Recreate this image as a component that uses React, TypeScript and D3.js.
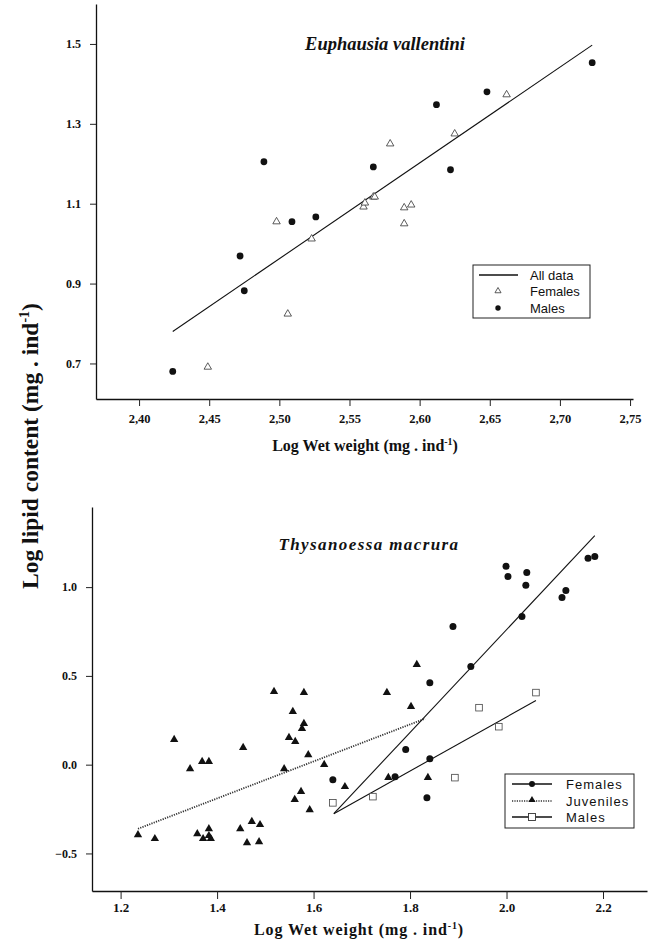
import React, { useEffect, useRef } from 'react';
import * as d3 from 'd3';

const serif = '"Liberation Serif", "Times New Roman", serif';
const sans = '"Liberation Sans", Arial, sans-serif';

// top panel : Euphausia vallentini
const evXTicks = [2.40, 2.45, 2.50, 2.55, 2.60, 2.65, 2.70, 2.75];
const evYTicks = [0.7, 0.9, 1.1, 1.3, 1.5];
const evFemales = [
  [2.449, 0.691], [2.498, 1.055], [2.506, 0.824], [2.523, 1.012], [2.560, 1.092],
  [2.561, 1.102], [2.567, 1.117], [2.568, 1.117], [2.579, 1.25], [2.589, 1.09],
  [2.594, 1.097], [2.589, 1.05], [2.625, 1.275], [2.662, 1.373]
];
const evMales = [
  [2.424, 0.68], [2.472, 0.969], [2.475, 0.882], [2.489, 1.205], [2.509, 1.055],
  [2.526, 1.067], [2.567, 1.192], [2.612, 1.348], [2.622, 1.185], [2.648, 1.38],
  [2.723, 1.453]
];
const evFit = [[2.424, 0.78], [2.723, 1.497]];

// bottom panel : Thysanoessa macrura
const tmXTicks = [1.2, 1.4, 1.6, 1.8, 2.0, 2.2];
const tmYTicks = [-0.5, 0.0, 0.5, 1.0];
const tmFemales = [
  [1.640, -0.085], [1.769, -0.068], [1.791, 0.085], [1.835, -0.186], [1.841, 0.034],
  [1.841, 0.462], [1.889, 0.778], [1.926, 0.553], [1.999, 1.117], [2.003, 1.06],
  [2.032, 0.835], [2.040, 1.01], [2.042, 1.083], [2.115, 0.942], [2.123, 0.981],
  [2.169, 1.162], [2.183, 1.173]
];
const tmJuveniles = [
  [1.236, -0.395], [1.271, -0.417], [1.311, 0.141], [1.344, -0.023], [1.359, -0.389],
  [1.369, 0.017], [1.371, -0.417], [1.383, 0.017], [1.383, -0.361], [1.383, -0.4],
  [1.387, -0.417], [1.448, -0.361], [1.454, 0.096], [1.462, -0.44], [1.472, -0.321],
  [1.487, -0.434], [1.489, -0.338], [1.518, 0.412], [1.539, -0.023], [1.549, 0.152],
  [1.557, 0.299], [1.561, -0.197], [1.562, 0.13], [1.574, -0.152], [1.576, 0.203],
  [1.580, 0.406], [1.580, 0.231], [1.589, 0.056], [1.592, -0.254], [1.622, 0.0],
  [1.665, -0.124], [1.752, 0.406], [1.755, -0.073], [1.802, 0.327], [1.814, 0.564],
  [1.837, -0.073]
];
const tmMales = [
  [1.640, -0.215], [1.723, -0.18], [1.893, -0.073], [1.943, 0.321], [1.984, 0.214],
  [2.061, 0.406]
];
const tmFemalesFit = [[1.642, -0.276], [2.183, 1.29]];
const tmJuvenilesFit = [[1.236, -0.361], [1.831, 0.259]];
const tmMalesFit = [[1.642, -0.276], [2.061, 0.361]];

const styleAxis = (g, size) => {
  g.attr('font-family', serif).attr('font-size', size).attr('font-weight', 'bold')
  g.select('.domain').attr('stroke', '#111').attr('stroke-width', 1.3)
  g.selectAll('.tick line').attr('stroke', '#222').attr('stroke-width', 1)
  g.selectAll('.tick text').attr('fill', '#111')
}

const axisTitle = (svg, x, y, size, spacing) => {
  const t = svg.append('text')
    .attr('x', x).attr('y', y)
    .attr('text-anchor', 'middle')
    .attr('font-family', serif).attr('font-weight', 'bold')
    .attr('font-size', size)
    .attr('letter-spacing', spacing)
    .attr('fill', '#111')
  t.append('tspan').text('Log Wet weight (mg . ind')
  t.append('tspan').attr('dy', -size * 0.4).attr('font-size', size * 0.62).text('-1')
  t.append('tspan').attr('dy', size * 0.4).text(')')
}

export default function App() {
  const ref = useRef(null);

  useEffect(() => {
    const svg = d3.select(ref.current)
    svg.selectAll('*').remove()

    // ---------- top panel
    const x1 = d3.scaleLinear().domain([2.3693, 2.7521]).range([96, 633])
    const y1 = d3.scaleLinear().domain([0.611, 1.6]).range([399, 4])

    const gx1 = svg.append('g').attr('transform', 'translate(0,399)')
      .call(d3.axisBottom(x1).tickValues(evXTicks).tickSize(7).tickSizeOuter(0).tickPadding(8)
        .tickFormat(d => d.toFixed(2).replace('.', ',')))
    styleAxis(gx1, 12.5)
    const gy1 = svg.append('g').attr('transform', 'translate(96,0)')
      .call(d3.axisLeft(y1).tickValues(evYTicks).tickSize(6).tickSizeOuter(0).tickPadding(9)
        .tickFormat(d3.format('.1f')))
    styleAxis(gy1, 12)

    svg.append('text')
      .attr('x', 385).attr('y', 50)
      .attr('text-anchor', 'middle')
      .attr('font-family', serif).attr('font-weight', 'bold').attr('font-style', 'italic')
      .attr('font-size', 18.5).attr('fill', '#111')
      .text('Euphausia vallentini')

    const line1 = d3.line().x(d => x1(d[0])).y(d => y1(d[1]))
    svg.append('path').attr('d', line1(evFit))
      .attr('fill', 'none').attr('stroke', '#111').attr('stroke-width', 1.1)

    const openTri = d3.symbol().type(d3.symbolTriangle).size(24)
    svg.append('g').selectAll('path').data(evFemales).enter().append('path')
      .attr('d', openTri)
      .attr('transform', d => `translate(${x1(d[0])},${y1(d[1])})`)
      .attr('fill', '#fff').attr('stroke', '#333').attr('stroke-width', 0.8)
    svg.append('g').selectAll('circle').data(evMales).enter().append('circle')
      .attr('cx', d => x1(d[0])).attr('cy', d => y1(d[1])).attr('r', 3.4)
      .attr('fill', '#111')

    // legend top
    const lg1 = svg.append('g').attr('font-family', sans).attr('font-size', 13).attr('fill', '#111')
    lg1.append('rect').attr('x', 473).attr('y', 265).attr('width', 117).attr('height', 53)
      .attr('fill', '#fff').attr('stroke', '#222').attr('stroke-width', 1)
    lg1.append('line').attr('x1', 479).attr('x2', 518).attr('y1', 275).attr('y2', 275)
      .attr('stroke', '#111').attr('stroke-width', 1.6)
    lg1.append('path').attr('d', d3.symbol().type(d3.symbolTriangle).size(16)())
      .attr('transform', 'translate(498,291)').attr('fill', '#fff').attr('stroke', '#333').attr('stroke-width', 0.8)
    lg1.append('circle').attr('cx', 498).attr('cy', 308).attr('r', 2.7).attr('fill', '#111')
    const lab1 = [['All data', 275], ['Females', 291], ['Males', 308]]
    lab1.forEach(([t, y]) => {
      lg1.append('text').attr('x', 530).attr('y', y).attr('dy', '0.36em').text(t)
    })

    // ---------- bottom panel
    const x2 = d3.scaleLinear().domain([1.1407, 2.2912]).range([92, 647])
    const y2 = d3.scaleLinear().domain([-0.7115, 1.4512]).range([891, 507])

    const gx2 = svg.append('g').attr('transform', 'translate(0,891)')
      .call(d3.axisBottom(x2).tickValues(tmXTicks).tickSize(8).tickSizeOuter(0).tickPadding(4)
        .tickFormat(d3.format('.1f')))
    styleAxis(gx2, 13)
    const gy2 = svg.append('g').attr('transform', 'translate(92,0)')
      .call(d3.axisLeft(y2).tickValues(tmYTicks).tickSize(6).tickSizeOuter(0).tickPadding(9)
        .tickFormat(d3.format('.1f')))
    styleAxis(gy2, 12)

    svg.append('text')
      .attr('x', 369).attr('y', 550)
      .attr('text-anchor', 'middle')
      .attr('font-family', serif).attr('font-weight', 'bold').attr('font-style', 'italic')
      .attr('font-size', 17).attr('letter-spacing', 1.4).attr('fill', '#111')
      .text('Thysanoessa macrura')

    const line2 = d3.line().x(d => x2(d[0])).y(d => y2(d[1]))
    svg.append('path').attr('d', line2(tmJuvenilesFit))
      .attr('fill', 'none').attr('stroke', '#333').attr('stroke-width', 1.8)
      .attr('stroke-dasharray', '1.2 1.2')
    svg.append('path').attr('d', line2(tmFemalesFit))
      .attr('fill', 'none').attr('stroke', '#111').attr('stroke-width', 1.1)
    svg.append('path').attr('d', line2(tmMalesFit))
      .attr('fill', 'none').attr('stroke', '#111').attr('stroke-width', 1.1)

    const fillTri = d3.symbol().type(d3.symbolTriangle).size(30)
    svg.append('g').selectAll('path').data(tmJuveniles).enter().append('path')
      .attr('d', fillTri)
      .attr('transform', d => `translate(${x2(d[0])},${y2(d[1])})`)
      .attr('fill', '#111')
    svg.append('g').selectAll('circle').data(tmFemales).enter().append('circle')
      .attr('cx', d => x2(d[0])).attr('cy', d => y2(d[1])).attr('r', 3.5)
      .attr('fill', '#111')
    svg.append('g').selectAll('rect').data(tmMales).enter().append('rect')
      .attr('x', d => x2(d[0]) - 3.3).attr('y', d => y2(d[1]) - 3.3)
      .attr('width', 6.6).attr('height', 6.6)
      .attr('fill', '#fff').attr('stroke', '#444').attr('stroke-width', 0.8)

    // legend bottom
    const lg2 = svg.append('g').attr('font-family', sans).attr('font-size', 13).attr('fill', '#111')
    lg2.append('rect').attr('x', 505).attr('y', 774).attr('width', 129).attr('height', 54)
      .attr('fill', '#fff').attr('stroke', '#222').attr('stroke-width', 1)
    lg2.append('line').attr('x1', 512).attr('x2', 552).attr('y1', 784).attr('y2', 784)
      .attr('stroke', '#111').attr('stroke-width', 1.6)
    lg2.append('circle').attr('cx', 532).attr('cy', 784).attr('r', 3).attr('fill', '#111')
    lg2.append('line').attr('x1', 512).attr('x2', 552).attr('y1', 801).attr('y2', 801)
      .attr('stroke', '#333').attr('stroke-width', 1.6).attr('stroke-dasharray', '1.2 1.2')
    lg2.append('path').attr('d', d3.symbol().type(d3.symbolTriangle).size(22)())
      .attr('transform', 'translate(532,800)').attr('fill', '#111')
    lg2.append('line').attr('x1', 512).attr('x2', 552).attr('y1', 817).attr('y2', 817)
      .attr('stroke', '#111').attr('stroke-width', 1.6)
    lg2.append('rect').attr('x', 528.5).attr('y', 813.5).attr('width', 7).attr('height', 7)
      .attr('fill', '#fff').attr('stroke', '#333').attr('stroke-width', 0.9)
    const lab2 = [['Females', 784], ['Juveniles', 801], ['Males', 817]]
    lab2.forEach(([t, y]) => {
      lg2.append('text').attr('x', 566).attr('y', y).attr('dy', '0.36em')
        .attr('letter-spacing', 1).text(t)
    })

    // axis titles
    axisTitle(svg, 365, 451, 16, 0)
    axisTitle(svg, 359, 935, 16, 0.9)

    const yt = svg.append('text')
      .attr('transform', 'translate(38,446) rotate(-90)')
      .attr('text-anchor', 'middle')
      .attr('font-family', serif).attr('font-weight', 'bold')
      .attr('font-size', 23.5).attr('fill', '#111')
    yt.append('tspan').text('Log lipid content (mg . ind')
    yt.append('tspan').attr('dy', -9).attr('font-size', 14).text('-1')
    yt.append('tspan').attr('dy', 9).text(')')
  }, [])

  return (
    <svg ref={ref} width={655} height={939}
      style={{ position: 'absolute', left: 0, top: 0, background: '#fff' }} />
  );
}
